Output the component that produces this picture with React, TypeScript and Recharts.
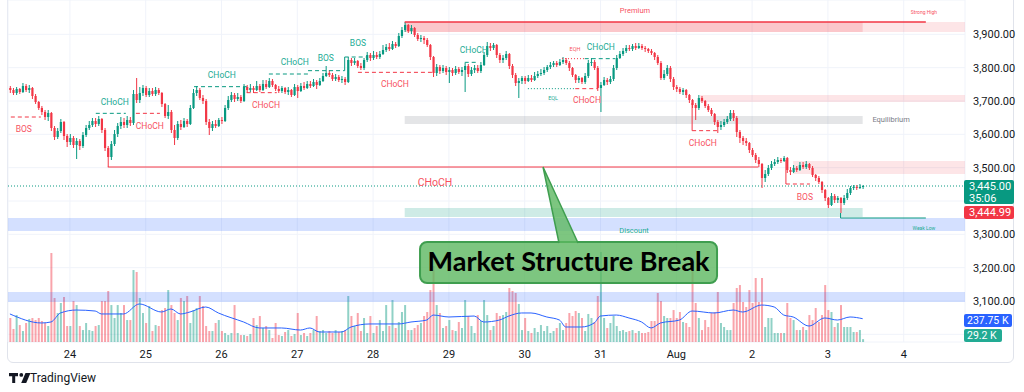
import React from "react";
import {
  ComposedChart,
  Bar,
  Line,
  XAxis,
  YAxis,
  CartesianGrid,
  Cell,
  ReferenceArea,
  ReferenceLine,
  ReferenceDot,
} from "recharts";

// ETH/USD hourly candles, Jul 23 05:00 -> Aug 3 11:00
// t = hours since Jul 24 00:00
const firstOpen = 3739;
const closes = [
  3733, 3724, 3736, 3727, 3745, 3733, 3739, 3715, 3697, 3679,
  3667, 3652, 3664, 3619, 3592, 3610, 3637, 3595, 3577, 3589,
  3568, 3580, 3565, 3598, 3619, 3628, 3640, 3631, 3646, 3613,
  3559, 3532, 3571, 3601, 3625, 3637, 3628, 3643, 3634, 3721,
  3703, 3724, 3739, 3718, 3730, 3721, 3733, 3724, 3691, 3655,
  3667, 3613, 3589, 3631, 3622, 3640, 3631, 3679, 3724, 3733,
  3709, 3700, 3637, 3619, 3631, 3625, 3643, 3640, 3679, 3703,
  3718, 3706, 3712, 3700, 3742, 3733, 3739, 3733, 3745, 3733,
  3751, 3742, 3760, 3748, 3736, 3730, 3739, 3727, 3733, 3718,
  3742, 3730, 3745, 3739, 3751, 3745, 3757, 3748, 3760, 3775,
  3784, 3778, 3766, 3772, 3763, 3766, 3757, 3823, 3814, 3820,
  3805, 3799, 3823, 3838, 3829, 3838, 3832, 3841, 3853, 3862,
  3856, 3871, 3865, 3895, 3913, 3928, 3910, 3919, 3898, 3886,
  3889, 3883, 3868, 3832, 3784, 3802, 3790, 3799, 3787, 3793,
  3784, 3796, 3787, 3793, 3805, 3781, 3793, 3799, 3790, 3808,
  3838, 3865, 3859, 3868, 3838, 3823, 3829, 3841, 3805, 3778,
  3754, 3760, 3769, 3760, 3769, 3763, 3775, 3781, 3784, 3793,
  3802, 3808, 3814, 3808, 3817, 3823, 3814, 3799, 3778, 3763,
  3769, 3757, 3775, 3814, 3817, 3799, 3739, 3748, 3763, 3757,
  3766, 3799, 3829, 3841, 3850, 3859, 3856, 3865, 3859, 3865,
  3859, 3856, 3850, 3844, 3832, 3814, 3769, 3781, 3799, 3766,
  3742, 3736, 3727, 3733, 3718, 3703, 3688, 3679, 3709, 3700,
  3685, 3673, 3661, 3637, 3622, 3628, 3637, 3646, 3664, 3649,
  3607, 3589, 3580, 3574, 3553, 3538, 3523, 3511, 3469, 3481,
  3499, 3511, 3517, 3523, 3520, 3529, 3493, 3487, 3499, 3493,
  3508, 3502, 3511, 3499, 3478, 3469, 3457, 3433, 3409, 3388,
  3415, 3403, 3409, 3394, 3409, 3424, 3439, 3442, 3439, 3442,
  3445,
];
const highs = [
  3745, 3739, 3742, 3739, 3754, 3751, 3748, 3742, 3721, 3700,
  3685, 3673, 3673, 3667, 3625, 3619, 3646, 3640, 3601, 3601,
  3595, 3589, 3586, 3607, 3628, 3640, 3649, 3649, 3655, 3649,
  3619, 3565, 3580, 3613, 3634, 3652, 3649, 3655, 3652, 3733,
  3769, 3742, 3748, 3745, 3739, 3739, 3742, 3739, 3727, 3694,
  3688, 3673, 3628, 3640, 3643, 3649, 3646, 3688, 3736, 3745,
  3739, 3718, 3706, 3646, 3640, 3643, 3649, 3652, 3688, 3715,
  3727, 3724, 3724, 3718, 3751, 3748, 3751, 3745, 3760, 3751,
  3763, 3763, 3769, 3766, 3751, 3745, 3745, 3742, 3742, 3736,
  3751, 3748, 3754, 3757, 3760, 3760, 3766, 3763, 3769, 3784,
  3805, 3793, 3784, 3781, 3778, 3775, 3772, 3832, 3829, 3829,
  3823, 3814, 3829, 3847, 3844, 3850, 3847, 3850, 3868, 3871,
  3874, 3880, 3877, 3904, 3922, 3937, 3931, 3928, 3922, 3904,
  3898, 3895, 3889, 3871, 3835, 3811, 3808, 3808, 3805, 3802,
  3799, 3805, 3802, 3802, 3814, 3811, 3802, 3808, 3808, 3817,
  3847, 3877, 3874, 3874, 3871, 3844, 3838, 3850, 3844, 3811,
  3784, 3769, 3775, 3775, 3778, 3778, 3787, 3790, 3796, 3802,
  3808, 3817, 3820, 3820, 3826, 3832, 3829, 3820, 3802, 3781,
  3775, 3772, 3784, 3823, 3829, 3823, 3805, 3757, 3772, 3769,
  3775, 3808, 3838, 3850, 3859, 3868, 3868, 3871, 3874, 3874,
  3871, 3865, 3859, 3856, 3847, 3838, 3820, 3793, 3808, 3805,
  3772, 3748, 3742, 3739, 3736, 3721, 3706, 3694, 3718, 3715,
  3703, 3691, 3679, 3664, 3643, 3640, 3646, 3655, 3673, 3673,
  3655, 3613, 3595, 3589, 3577, 3559, 3544, 3532, 3514, 3493,
  3508, 3520, 3526, 3532, 3529, 3535, 3532, 3502, 3508, 3505,
  3517, 3517, 3520, 3514, 3505, 3481, 3475, 3460, 3436, 3412,
  3424, 3421, 3415, 3412, 3418, 3436, 3445, 3448, 3448, 3451,
  3448,
];
const lows = [
  3724, 3718, 3718, 3721, 3724, 3727, 3724, 3706, 3691, 3673,
  3658, 3643, 3640, 3610, 3583, 3586, 3604, 3583, 3562, 3568,
  3559, 3526, 3553, 3559, 3592, 3613, 3622, 3622, 3625, 3604,
  3550, 3502, 3523, 3565, 3592, 3616, 3619, 3619, 3625, 3628,
  3694, 3694, 3715, 3712, 3712, 3715, 3715, 3718, 3682, 3649,
  3646, 3604, 3568, 3583, 3613, 3619, 3622, 3628, 3676, 3715,
  3703, 3691, 3628, 3598, 3610, 3619, 3622, 3631, 3637, 3673,
  3697, 3697, 3700, 3694, 3697, 3724, 3727, 3724, 3730, 3727,
  3730, 3736, 3739, 3742, 3730, 3724, 3724, 3721, 3718, 3712,
  3715, 3709, 3727, 3733, 3736, 3739, 3742, 3736, 3745, 3757,
  3772, 3772, 3760, 3760, 3757, 3754, 3748, 3754, 3805, 3808,
  3799, 3793, 3793, 3817, 3820, 3823, 3826, 3826, 3838, 3847,
  3850, 3853, 3859, 3862, 3889, 3907, 3904, 3901, 3892, 3880,
  3877, 3871, 3862, 3823, 3772, 3775, 3781, 3784, 3778, 3754,
  3775, 3778, 3781, 3775, 3727, 3772, 3775, 3784, 3784, 3784,
  3805, 3832, 3850, 3853, 3829, 3814, 3814, 3823, 3796, 3769,
  3745, 3709, 3751, 3751, 3757, 3757, 3760, 3769, 3775, 3778,
  3787, 3796, 3802, 3802, 3805, 3811, 3808, 3790, 3772, 3754,
  3754, 3751, 3751, 3769, 3805, 3793, 3730, 3667, 3745, 3748,
  3751, 3760, 3793, 3826, 3835, 3844, 3850, 3850, 3853, 3856,
  3853, 3847, 3844, 3838, 3823, 3808, 3763, 3763, 3775, 3757,
  3733, 3727, 3721, 3718, 3709, 3694, 3679, 3643, 3673, 3694,
  3679, 3667, 3655, 3628, 3604, 3613, 3622, 3631, 3640, 3640,
  3592, 3574, 3568, 3565, 3544, 3532, 3514, 3502, 3439, 3457,
  3475, 3493, 3505, 3511, 3514, 3517, 3484, 3478, 3484, 3487,
  3490, 3496, 3496, 3493, 3472, 3460, 3451, 3424, 3400, 3379,
  3385, 3394, 3394, 3364, 3388, 3403, 3418, 3433, 3433, 3436,
  3436,
];
// volume in thousands
const volumes = [
  245, 133, 275, 173, 112, 194, 235, 245, 224, 245,
  214, 194, 163, 908, 449, 296, 398, 459, 163, 163,
  418, 377, 163, 122, 194, 122, 112, 163, 173, 418,
  418, 520, 377, 245, 377, 296, 377, 224, 224, 734,
  714, 449, 296, 194, 367, 112, 173, 163, 326, 347,
  530, 377, 296, 224, 449, 418, 469, 194, 326, 347,
  469, 367, 163, 112, 112, 194, 224, 112, 92, 71,
  92, 377, 92, 71, 71, 61, 82, 245, 173, 265,
  143, 163, 122, 41, 194, 71, 61, 102, 122, 61,
  82, 296, 71, 92, 61, 92, 122, 265, 112, 122,
  92, 112, 92, 122, 102, 112, 122, 469, 265, 163,
  296, 112, 245, 92, 265, 92, 163, 224, 112, 377,
  163, 428, 143, 204, 306, 377, 122, 122, 143, 173,
  194, 265, 306, 530, 775, 377, 296, 143, 163, 224,
  122, 112, 204, 143, 428, 265, 163, 92, 275, 214,
  428, 275, 122, 163, 296, 265, 275, 306, 551, 520,
  500, 388, 122, 245, 112, 92, 143, 102, 173, 112,
  163, 92, 112, 143, 194, 122, 194, 296, 265, 316,
  296, 245, 112, 286, 245, 204, 469, 918, 245, 143,
  194, 265, 163, 112, 122, 102, 112, 122, 92, 112,
  92, 92, 102, 214, 214, 500, 418, 265, 245, 245,
  326, 245, 306, 204, 194, 153, 734, 398, 245, 122,
  224, 153, 296, 306, 510, 194, 153, 122, 122, 398,
  551, 581, 408, 357, 530, 398, 653, 408, 653, 153,
  245, 245, 92, 92, 92, 92, 398, 245, 224, 122,
  122, 153, 122, 275, 224, 347, 204, 275, 581, 326,
  306, 153, 194, 377, 153, 153, 153, 102, 102, 122,
  29.2,
];
// volume moving average, read at these candle indexes
const maIdx = [
  0, 10, 13, 16, 21, 27, 29, 32, 36, 41, 48, 51, 54, 57, 62, 66, 74, 79, 86, 92,
  95, 98, 105, 108, 114, 123, 127, 132, 134, 139, 147, 150, 155, 158, 162, 165, 170, 174, 176, 181,
  185, 187, 192, 196, 200, 203, 206, 212, 216, 223, 229, 232, 238, 242, 245, 248, 253, 258, 262, 266,
  270,
];
const maVal = [
  286, 194, 204, 296, 326, 316, 286, 286, 286, 388, 306, 337, 286, 306, 357, 296, 204, 143, 143, 122,
  143, 102, 102, 153, 184, 184, 204, 224, 275, 255, 265, 204, 224, 265, 296, 296, 255, 224, 153, 153,
  194, 265, 275, 245, 204, 143, 194, 224, 316, 296, 326, 306, 377, 357, 275, 255, 163, 245, 224, 255,
  237.75,
];

const dayTicks = [0, 24, 48, 72, 96, 120, 144, 168, 192, 216, 240, 264];
const dayLabels = ["24", "25", "26", "27", "28", "29", "30", "31", "Aug", "2", "3", "4"];
const priceTicks = [3000, 3100, 3200, 3300, 3400, 3500, 3600, 3700, 3800, 3900];
// these two sit under the last-price and volume badges
const coveredTicks = [3000, 3400];

const UP = "#089981";
const DOWN = "#f23645";
const UP_TXT = "#22ab94";
const DOWN_TXT = "#f7525f";

const X_DOMAIN = [-19.6, 283.4];
const P_DOMAIN = [2977, 4003];
const V_DOMAIN = [0, 3488];

const rows = closes.map((c, i) => {
  const o = i === 0 ? firstOpen : closes[i - 1];
  return {
    t: i - 19,
    o,
    c,
    h: Math.max(highs[i], o, c),
    l: Math.min(lows[i], o, c),
    v: volumes[i],
    ma: null as number | null,
  };
});
maIdx.forEach((idx, k) => {
  rows[idx].ma = maVal[k];
});

// zones (time in hours, price)
const zones = [
  { x1: 106, x2: 251, y1: 3907, y2: 3937, fill: DOWN, op: 0.28 },
  { x1: 251, x2: 283.4, y1: 3907, y2: 3937, fill: DOWN, op: 0.13 },
  { x1: 199.5, x2: 283.4, y1: 3697, y2: 3718, fill: DOWN, op: 0.13 },
  { x1: 106, x2: 251, y1: 3631, y2: 3655, fill: "#787b86", op: 0.2 },
  { x1: 229, x2: 283.4, y1: 3481, y2: 3520, fill: DOWN, op: 0.13 },
  { x1: 106, x2: 251, y1: 3352, y2: 3379, fill: UP, op: 0.2 },
  { x1: -19.6, x2: 283.4, y1: 3310, y2: 3349, fill: "#2962ff", op: 0.2 },
  { x1: -19.6, x2: 283.4, y1: 3097, y2: 3127, fill: "#2962ff", op: 0.2 },
];

// structure lines
const segs = [
  { a: [106, 3937], b: [271, 3937], color: DOWN, dash: "", w: 1.5 },
  { a: [12, 3502], b: [218, 3502], color: DOWN, dash: "", w: 1 },
  { a: [244, 3349], b: [271, 3349], color: UP, dash: "", w: 1 },
  { a: [244, 3364], b: [244, 3349], color: UP, dash: "", w: 1 },
  { a: [-18.7, 3652], b: [-9.2, 3652], color: DOWN, dash: "4 3", w: 1 },
  { a: [8.2, 3663], b: [17.7, 3663], color: UP, dash: "4 3", w: 1 },
  { a: [20.9, 3663], b: [28.5, 3663], color: DOWN, dash: "4 3", w: 1 },
  { a: [39.3, 3743], b: [56, 3743], color: UP, dash: "4 3", w: 1 },
  { a: [56, 3725], b: [65.5, 3725], color: DOWN, dash: "4 3", w: 1 },
  { a: [63, 3781], b: [75.4, 3781], color: UP, dash: "4 3", w: 1 },
  { a: [75.4, 3791], b: [87, 3791], color: UP, dash: "4 3", w: 1 },
  { a: [87, 3832], b: [94, 3832], color: UP, dash: "4 3", w: 1 },
  { a: [87, 3832], b: [87, 3791], color: UP, dash: "", w: 1 },
  { a: [91.2, 3786], b: [115.6, 3786], color: DOWN, dash: "4 3", w: 1 },
  { a: [125, 3816], b: [128.9, 3816], color: UP, dash: "4 3", w: 1 },
  { a: [155.8, 3827], b: [163, 3827], color: DOWN, dash: "1 2", w: 1 },
  { a: [163, 3827], b: [172.6, 3827], color: UP, dash: "4 3", w: 1 },
  { a: [145, 3737], b: [160, 3737], color: UP, dash: "1 2", w: 1 },
  { a: [160, 3737], b: [167.2, 3737], color: DOWN, dash: "4 3", w: 1 },
  { a: [197, 3611], b: [204.9, 3611], color: DOWN, dash: "4 3", w: 1 },
  { a: [197, 3694], b: [197, 3611], color: DOWN, dash: "", w: 1 },
  { a: [226.7, 3451], b: [234.3, 3451], color: DOWN, dash: "4 3", w: 1 },
  { a: [226.7, 3523], b: [226.7, 3451], color: DOWN, dash: "", w: 1 },
];

const tags = [
  { t: -14.6, p: 3616, text: "BOS", color: DOWN_TXT, size: 8.5 },
  { t: 14.2, p: 3697, text: "CHoCH", color: UP_TXT, size: 8.5 },
  { t: 25.3, p: 3625, text: "CHoCH", color: DOWN_TXT, size: 8.5 },
  { t: 48.1, p: 3778, text: "CHoCH", color: UP_TXT, size: 8.5 },
  { t: 62.1, p: 3688, text: "CHoCH", color: DOWN_TXT, size: 8.5 },
  { t: 71.2, p: 3817, text: "CHoCH", color: UP_TXT, size: 8.5 },
  { t: 81, p: 3829, text: "BOS", color: UP_TXT, size: 8.5 },
  { t: 91.2, p: 3874, text: "BOS", color: UP_TXT, size: 8.5 },
  { t: 102.9, p: 3751, text: "CHoCH", color: DOWN_TXT, size: 8.5 },
  { t: 127.9, p: 3853, text: "CHoCH", color: UP_TXT, size: 8.5 },
  { t: 159.9, p: 3856, text: "EQH", color: DOWN_TXT, size: 5.5 },
  { t: 168.1, p: 3862, text: "CHoCH", color: UP_TXT, size: 8.5 },
  { t: 153, p: 3709, text: "EQL", color: UP_TXT, size: 5.5 },
  { t: 163.7, p: 3703, text: "CHoCH", color: DOWN_TXT, size: 8.5 },
  { t: 200.4, p: 3574, text: "CHoCH", color: DOWN_TXT, size: 8.5 },
  { t: 232.7, p: 3412, text: "BOS", color: DOWN_TXT, size: 8.5 },
  { t: 115.6, p: 3457, text: "CHoCH", color: DOWN_TXT, size: 10.5 },
  { t: 178.9, p: 3973, text: "Premium", color: DOWN_TXT, size: 7.5 },
  { t: 178.6, p: 3313, text: "Discount", color: UP_TXT, size: 7.5 },
  { t: 260, p: 3646, text: "Equilibrium", color: "#787b86", size: 7.5 },
  { t: 270.4, p: 3967, text: "Strong High", color: DOWN_TXT, size: 5 },
  { t: 270.4, p: 3319, text: "Weak Low", color: UP_TXT, size: 5 },
];

const callout = { t: 149.8, p: 3502, text: "Market Structure Break" };

const fmtPrice = (v: number) =>
  coveredTicks.includes(v)
    ? ""
    : v.toLocaleString("en-US", { minimumFractionDigits: 2, maximumFractionDigits: 2 });

const Candle = (props: any) => {
  const { x, y, width, height, payload } = props;
  if (!payload || x == null || y == null) return null;
  const { o, h, l, c } = payload;
  const top = Math.min(y, y + height);
  const hh = Math.abs(height);
  const k = h - l > 0 ? hh / (h - l) : 0;
  const at = (p: number) => top + (h - p) * k;
  const color = c >= o ? UP : DOWN;
  const cx = x + width / 2;
  const bTop = at(Math.max(o, c));
  const bBot = at(Math.min(o, c));
  return (
    <g>
      <line x1={cx} x2={cx} y1={top} y2={top + hh} stroke={color} strokeWidth={1} />
      <rect x={cx - 1.1} y={bTop} width={2.2} height={Math.max(1, bBot - bTop)} fill={color} />
    </g>
  );
};

const Callout = (props: any) => {
  const { cx, cy } = props;
  if (cx == null || cy == null) return null;
  const bx = cx - 123;
  const by = cy + 75;
  return (
    <g>
      <rect x={bx} y={by} width={297} height={41} rx={7} fill="#5cb860" fillOpacity={0.8} stroke="#3f9e4f" strokeWidth={2} />
      <path
        d={`M${cx + 16},${by + 1} L${cx},${cy} L${cx + 35},${by + 1}`}
        fill="#5cb860"
        fillOpacity={0.8}
        stroke="#3f9e4f"
        strokeWidth={1.5}
      />
      <text
        x={cx + 25.5}
        y={by + 29}
        textAnchor="middle"
        fontFamily="Lato, 'DejaVu Sans', sans-serif"
        fontWeight={700}
        fontSize={27}
        fill="#000"
        textLength={282}
        lengthAdjust="spacingAndGlyphs"
      >
        {props.label}
      </text>
    </g>
  );
};

const boxStyle = (bg: string): React.CSSProperties => ({
  position: "absolute",
  left: 964,
  background: bg,
  color: "#fff",
  fontSize: 11,
  lineHeight: "12px",
  paddingLeft: 5,
  borderRadius: 2,
  boxSizing: "border-box",
  whiteSpace: "nowrap",
});

export default function App() {
  return (
    <div
      style={{
        position: "absolute",
        left: 0,
        top: 0,
        width: 1024,
        height: 392,
        background: "#fff",
        overflow: "hidden",
        fontFamily: "Roboto, 'DejaVu Sans', sans-serif",
      }}
    >
      <div
        style={{
          position: "absolute",
          left: 7,
          top: -20,
          width: 1007,
          height: 383,
          border: "1px solid #e0e3eb",
          borderRadius: 6,
          boxSizing: "border-box",
        }}
      />
      {/* bottom layer: grid, axes, volume */}
      <div style={{ position: "absolute", left: 0, top: 0 }}>
        <ComposedChart width={1024} height={392} data={rows} margin={{ top: 0, right: 0, bottom: 30, left: 8 }}>
          <CartesianGrid yAxisId="p" stroke="#f0f3fa" />
          <XAxis
            dataKey="t"
            type="number"
            domain={X_DOMAIN}
            allowDataOverflow
            ticks={dayTicks}
            tickFormatter={(v: number) => dayLabels[dayTicks.indexOf(v)] ?? ""}
            height={20}
            tickLine={false}
            axisLine={false}
            tick={{ fontSize: 11, fill: "#131722" }}
          />
          <YAxis
            yAxisId="p"
            orientation="right"
            width={59}
            domain={P_DOMAIN}
            allowDataOverflow
            ticks={priceTicks}
            tickFormatter={fmtPrice}
            tickLine={false}
            axisLine={false}
            tick={{ fontSize: 11, fill: "#131722" }}
          />
          <YAxis yAxisId="v" hide domain={V_DOMAIN} allowDataOverflow />
          <Bar yAxisId="v" dataKey="v" barSize={2} isAnimationActive={false}>
            {rows.map((r, i) => (
              <Cell key={i} fill={r.c >= r.o ? UP : DOWN} fillOpacity={0.45} />
            ))}
          </Bar>
          <Line
            yAxisId="v"
            dataKey="ma"
            type="monotone"
            stroke="#2962ff"
            strokeWidth={1}
            dot={false}
            connectNulls
            isAnimationActive={false}
          />
        </ComposedChart>
      </div>
      {/* top layer: price structure */}
      <div style={{ position: "absolute", left: 0, top: 0 }}>
        <ComposedChart width={1024} height={392} data={rows} margin={{ top: 0, right: 59, bottom: 50, left: 8 }}>
          <XAxis dataKey="t" type="number" hide domain={X_DOMAIN} allowDataOverflow />
          <YAxis hide domain={P_DOMAIN} allowDataOverflow />
          {zones.map((z, i) => (
            <ReferenceArea
              key={"z" + i}
              x1={z.x1}
              x2={z.x2}
              y1={z.y1}
              y2={z.y2}
              fill={z.fill}
              fillOpacity={z.op}
              stroke="none"
              ifOverflow="extendDomain"
            />
          ))}
          <ReferenceLine y={3445} stroke={UP} strokeDasharray="1 2" strokeWidth={1} />
          {segs.map((s, i) => (
            <ReferenceLine
              key={"s" + i}
              segment={[
                { x: s.a[0], y: s.a[1] },
                { x: s.b[0], y: s.b[1] },
              ]}
              stroke={s.color}
              strokeWidth={s.w}
              strokeDasharray={s.dash || undefined}
            />
          ))}
          <Bar dataKey={(d: any) => [d.l, d.h]} barSize={2} shape={Candle} isAnimationActive={false} />
          {tags.map((g, i) => (
            <ReferenceDot
              key={"g" + i}
              x={g.t}
              y={g.p}
              r={0}
              shape={(p: any) => (
                <text
                  x={p.cx}
                  y={p.cy}
                  textAnchor="middle"
                  dominantBaseline="central"
                  fontSize={g.size}
                  fill={g.color}
                >
                  {g.text}
                </text>
              )}
            />
          ))}
          <ReferenceDot
            x={callout.t}
            y={callout.p}
            r={0}
            shape={(p: any) => <Callout cx={p.cx} cy={p.cy} label={callout.text} />}
          />
        </ComposedChart>
      </div>
      {/* price scale labels */}
      <div style={{ ...boxStyle(UP), top: 180, width: 50, height: 24, paddingTop: 1 }}>
        <div>3,445.00</div>
        <div>35:06</div>
      </div>
      <div style={{ ...boxStyle(DOWN), top: 206, width: 50, height: 13, paddingTop: 1 }}>3,444.99</div>
      <div style={{ ...boxStyle("#2962ff"), top: 314, width: 48, height: 13, paddingTop: 1, fontSize: 10.5, paddingLeft: 3 }}>
        237.75 K
      </div>
      <div style={{ ...boxStyle("#22ab94"), top: 329, width: 38, height: 13, paddingTop: 1, fontSize: 10.5, paddingLeft: 3 }}>
        29.2 K
      </div>
      {/* brand */}
      <svg style={{ position: "absolute", left: 9, top: 373 }} width={22} height={11}>
        <path d="M0 0h9v3.2H6.2V10H3.2V3.2H0z" fill="#131722" />
        <circle cx={12.3} cy={1.9} r={1.9} fill="#131722" />
        <path d="M16.5 0h5l-4.3 10h-5z" fill="#131722" />
      </svg>
      <div style={{ position: "absolute", left: 30, top: 371, fontSize: 12, color: "#131722" }}>TradingView</div>
    </div>
  );
}
